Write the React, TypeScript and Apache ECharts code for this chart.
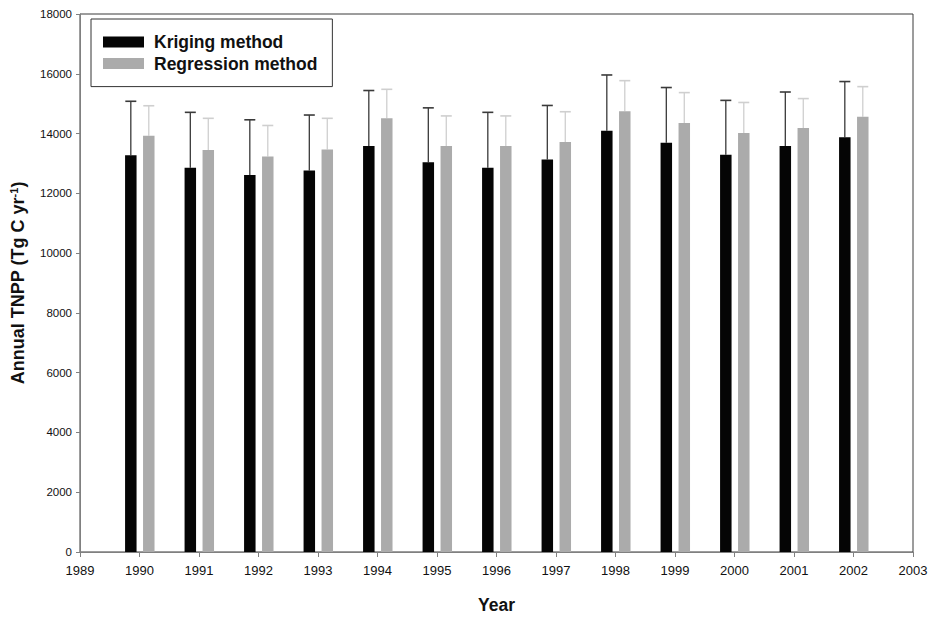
import React, { useEffect, useRef } from "react";
import * as echarts from "echarts";

const years = [1990, 1991, 1992, 1993, 1994, 1995, 1996, 1997, 1998, 1999, 2000, 2001, 2002];
const krigingMean = [13270, 12860, 12610, 12760, 13580, 13040, 12860, 13130, 14090, 13690, 13290, 13580, 13880];
const krigingSD = [1810, 1850, 1850, 1860, 1860, 1820, 1850, 1810, 1870, 1850, 1820, 1810, 1860];
const regressionMean = [13930, 13450, 13230, 13470, 14510, 13580, 13580, 13720, 14750, 14350, 14020, 14190, 14560];
const regressionSD = [1000, 1060, 1040, 1040, 970, 1010, 1010, 1010, 1020, 1020, 1020, 980, 1010];

const FONT = "'Liberation Sans', Arial, sans-serif";

function makeRender(offset: number, barColor: string, errColor: string, capWidth: number) {
  return (params: any, api: any) => {
    const x = api.value(0);
    const v = api.value(1);
    const sd = api.value(2);
    const xc = x + offset;
    const base = api.coord([xc, 0]);
    const top = api.coord([xc, v]);
    const etop = api.coord([xc, v + sd]);
    const w = api.size([0.193, 0])[0];
    const cx = base[0];
    return {
      type: "group",
      children: [
        {
          type: "line",
          shape: { x1: cx, y1: top[1], x2: cx, y2: etop[1] },
          style: { stroke: errColor, lineWidth: 1.3 },
        },
        {
          type: "line",
          shape: { x1: cx - capWidth / 2, y1: etop[1], x2: cx + capWidth / 2, y2: etop[1] },
          style: { stroke: errColor, lineWidth: 1.6 },
        },
        {
          type: "rect",
          shape: { x: cx - w / 2, y: top[1], width: w, height: base[1] - top[1] },
          style: { fill: barColor },
        },
      ],
    };
  };
}

export default function App() {
  const ref = useRef<HTMLDivElement>(null);
  useEffect(() => {
    if (!ref.current) return;
    const chart = echarts.init(ref.current, null, { renderer: "svg" });
    const kData = years.map((y, i) => [y, krigingMean[i], krigingSD[i]]);
    const rData = years.map((y, i) => [y, regressionMean[i], regressionSD[i]]);
    chart.setOption({
      animation: false,
      backgroundColor: "#ffffff",
      grid: {
        left: 77,
        right: 22,
        top: 14,
        bottom: 62,
        show: true,
        borderColor: "#3a3a3a",
        borderWidth: 1,
      },
      legend: {
        orient: "vertical",
        left: 91,
        top: 19,
        padding: [14, 15, 14, 12],
        itemGap: 3.6,
        itemWidth: 41,
        itemHeight: 11,
        borderColor: "#333333",
        borderWidth: 1,
        icon: "rect",
        textStyle: {
          fontFamily: FONT,
          fontSize: 17.5,
          fontWeight: "bold",
          color: "#111111",
          lineHeight: 18,
          padding: [0, 0, 0, 5],
        },
        data: ["Kriging method", "Regression method"],
      },
      xAxis: {
        type: "value",
        min: 1989,
        max: 2003,
        interval: 1,
        name: "Year",
        nameLocation: "middle",
        nameGap: 44,
        nameTextStyle: { fontFamily: FONT, fontSize: 17.5, fontWeight: "bold", color: "#111111" },
        axisLine: { show: true, lineStyle: { color: "#808080", width: 1 } },
        axisTick: { show: true, length: 5, lineStyle: { color: "#808080" } },
        axisLabel: {
          fontFamily: FONT,
          fontSize: 13,
          color: "#111111",
          margin: 12,
          formatter: (v: number) => String(v),
        },
        splitLine: { show: false },
      },
      yAxis: {
        type: "value",
        min: 0,
        max: 18000,
        interval: 2000,
        name: "Annual TNPP (Tg C yr{sup|-1})",
        nameLocation: "middle",
        nameRotate: 90,
        nameGap: 52,
        nameTextStyle: {
          fontFamily: FONT,
          fontSize: 18,
          fontWeight: "bold",
          color: "#111111",
          rich: {
            sup: {
              fontFamily: FONT,
              fontSize: 11,
              fontWeight: "bold",
              color: "#111111",
              padding: [0, 0, 9, 0],
            },
          },
        },
        axisLine: { show: true, lineStyle: { color: "#808080", width: 1 } },
        axisTick: { show: true, length: 4, lineStyle: { color: "#808080" } },
        axisLabel: {
          fontFamily: FONT,
          fontSize: 11.5,
          color: "#111111",
          margin: 8,
          formatter: (v: number) => String(v),
        },
        splitLine: { show: false },
      },
      series: [
        {
          name: "Kriging method",
          type: "custom",
          itemStyle: { color: "#050505" },
          renderItem: makeRender(-0.146, "#050505", "#3a3a3a", 11),
          data: kData,
          encode: { x: 0, y: 1 },
          z: 3,
        },
        {
          name: "Regression method",
          type: "custom",
          itemStyle: { color: "#ababab" },
          renderItem: makeRender(0.156, "#ababab", "#cfcfcf", 11),
          data: rData,
          encode: { x: 0, y: 1 },
          z: 3,
        },
      ],
    });
    return () => chart.dispose();
  }, []);
  return <div ref={ref} style={{ width: 935, height: 619, position: "absolute", left: 0, top: 0 }} />;
}
